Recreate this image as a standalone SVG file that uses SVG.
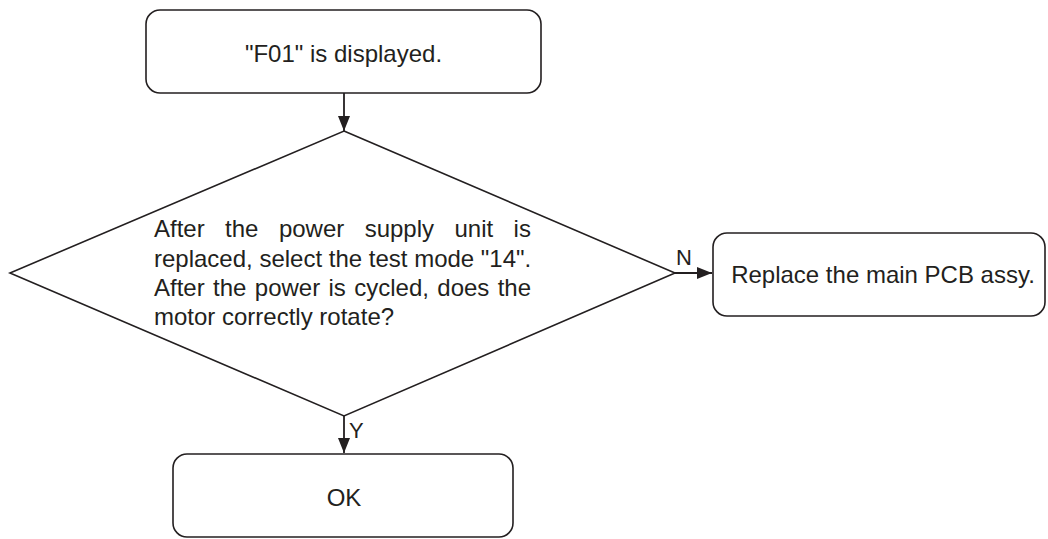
<svg xmlns="http://www.w3.org/2000/svg" width="1048" height="539" viewBox="0 0 1048 539">
<style>
.box{fill:#fff;stroke:#231f20;stroke-width:1.6}
.t{font-family:"Liberation Sans",Arial,sans-serif;font-size:24px;fill:#231f20}
.lbl{font-family:"Liberation Sans",Arial,sans-serif;font-size:22px;fill:#231f20}
.c{text-anchor:middle}
.ln{stroke:#231f20;stroke-width:1.8;fill:none}
</style>
<defs>
<marker id="ah" viewBox="0 0 15 12" refX="15" refY="6" markerWidth="15" markerHeight="12" markerUnits="userSpaceOnUse" orient="auto">
<path d="M0,0 L15,6 L0,12 Z" fill="#231f20"/>
</marker>
</defs>
<rect width="1048" height="539" fill="#fff"/>
<g id="connectors">
<line class="ln" x1="344" y1="93" x2="344" y2="131" marker-end="url(#ah)"/>
<line class="ln" x1="675" y1="273" x2="712" y2="273" marker-end="url(#ah)"/>
<line class="ln" x1="344" y1="416" x2="344" y2="453" marker-end="url(#ah)"/>
<text class="lbl" x="676" y="265">N</text>
<text class="lbl" x="349" y="438">Y</text>
</g>
<g id="start">
<rect class="box" x="146" y="10" width="395" height="83" rx="14"/>
<text class="t c" x="343.5" y="62">"F01" is displayed.</text>
</g>
<g id="decision">
<polygon class="box" points="344,131 675,273 344,416 10,273"/>
<text class="t" x="154" y="237" word-spacing="13.75">After the power supply unit is</text>
<text class="t" x="154" y="267">replaced, select the test mode "14".</text>
<text class="t" x="154" y="296" word-spacing="1.7">After the power is cycled, does the</text>
<text class="t" x="154" y="325">motor correctly rotate?</text>
</g>
<g id="replace">
<rect class="box" x="713" y="233" width="332" height="83" rx="14"/>
<text class="t c" x="883" y="283">Replace the main PCB assy.</text>
</g>
<g id="ok">
<rect class="box" x="173" y="454" width="340" height="83" rx="14"/>
<text class="t c" x="344" y="506">OK</text>
</g>
</svg>
